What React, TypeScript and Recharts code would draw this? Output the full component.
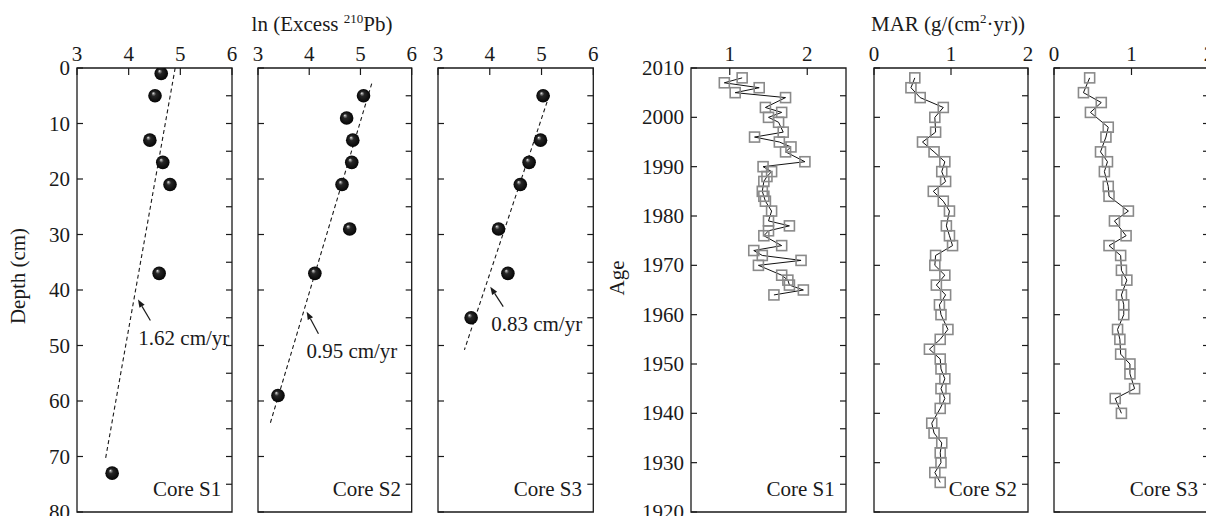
import React from "react";
import { ScatterChart, Scatter, XAxis, YAxis, ReferenceArea, ReferenceLine } from "recharts";

// ln(excess 210Pb) vs depth, three cores
const depthS1 = [1, 5, 13, 17, 21, 37, 73];
const lnS1 = [4.63, 4.51, 4.41, 4.66, 4.8, 4.59, 3.68];
const depthS2 = [5, 9, 13, 17, 21, 29, 37, 59];
const lnS2 = [5.06, 4.73, 4.85, 4.83, 4.64, 4.79, 4.11, 3.39];
const depthS3 = [5, 13, 17, 21, 29, 37, 45];
const lnS3 = [5.03, 4.98, 4.76, 4.59, 4.17, 4.35, 3.64];

// dashed fit lines, [top, bottom]
const fitDepthS1 = [0, 70.5];
const fitLnS1 = [4.9, 3.55];
const fitDepthS2 = [2.8, 64.3];
const fitLnS2 = [5.22, 3.23];
const fitDepthS3 = [4.9, 50.8];
const fitLnS3 = [5.15, 3.51];

// arrows, [tail, tip]
const arrowDepthS1 = [45.5, 41.7];
const arrowLnS1 = [4.42, 4.18];
const arrowDepthS2 = [47.9, 43.9];
const arrowLnS2 = [4.18, 3.95];
const arrowDepthS3 = [43.0, 39.4];
const arrowLnS3 = [4.26, 4.01];
const rateLabels = ["1.62 cm/yr", "0.95 cm/yr", "0.83 cm/yr"];

// MAR vs age
const ageS1 = [2008, 2007, 2006, 2005, 2004, 2002, 2001, 2000, 1999, 1997, 1996, 1995, 1994, 1993, 1991, 1990, 1989, 1988, 1987, 1985, 1984, 1983, 1981, 1979, 1978, 1977, 1976, 1974, 1973, 1972, 1971, 1970, 1968, 1967, 1966, 1965, 1964];
const marS1 = [1.16, 0.93, 1.38, 1.07, 1.72, 1.46, 1.67, 1.5, 1.63, 1.69, 1.32, 1.64, 1.79, 1.72, 1.97, 1.43, 1.54, 1.48, 1.44, 1.42, 1.44, 1.46, 1.54, 1.5, 1.77, 1.5, 1.44, 1.67, 1.31, 1.42, 1.92, 1.37, 1.67, 1.75, 1.77, 1.95, 1.57];
const ageS2 = [2008, 2006, 2004, 2002, 2000, 1997, 1995, 1993, 1991, 1989, 1987, 1985, 1983, 1981, 1978, 1976, 1974, 1972, 1970, 1968, 1966, 1964, 1962, 1960, 1957, 1955, 1953, 1951, 1949, 1947, 1945, 1943, 1941, 1938, 1936, 1934, 1932, 1930, 1928, 1926];
const marS2 = [0.53, 0.48, 0.6, 0.9, 0.79, 0.8, 0.63, 0.78, 0.92, 0.88, 0.93, 0.77, 0.9, 0.98, 0.94, 0.98, 1.02, 0.8, 0.79, 0.92, 0.81, 0.93, 0.85, 0.87, 0.96, 0.86, 0.72, 0.86, 0.87, 0.92, 0.87, 0.92, 0.86, 0.75, 0.78, 0.88, 0.86, 0.87, 0.79, 0.86];
const ageS3 = [2008, 2005, 2003, 2001, 1998, 1996, 1993, 1991, 1989, 1986, 1984, 1981, 1979, 1976, 1974, 1972, 1969, 1967, 1964, 1962, 1960, 1957, 1955, 1952, 1950, 1948, 1945, 1943, 1940];
const marS3 = [0.46, 0.38, 0.61, 0.47, 0.7, 0.67, 0.6, 0.69, 0.65, 0.7, 0.71, 0.96, 0.78, 0.93, 0.71, 0.86, 0.87, 0.94, 0.87, 0.9, 0.9, 0.82, 0.85, 0.86, 0.98, 0.98, 1.04, 0.79, 0.87];

// ticks
const lnTicks = [3, 4, 5, 6];
const lnMinor = [3.5, 4, 4.5, 5, 5.5];
const depthTicks = [0, 10, 20, 30, 40, 50, 60, 70, 80];
const ageTicks = [1920, 1930, 1940, 1950, 1960, 1970, 1980, 1990, 2000, 2010];
const marTicksS1 = [1, 2];
const marMinorS1 = [1, 1.5, 2];
const marTicks = [0, 1, 2];
const marMinor = [0.5, 1, 1.5];
const rightTicks = [1, 2, 3, 4, 5, 6, 7, 8, 9, 10, 11, 12, 13, 14, 15];
const coreNames = ["Core S1", "Core S2", "Core S3"];

const FONT = 21;
const INK = "#1a1a1a";
const YW = 60;
const RW = 8;
const TOP = 68;
const FAMILY = "'Liberation Serif', 'Times New Roman', serif";

const zip = (xs: number[], ys: number[]) => xs.map((x, i) => ({ x, y: ys[i] }));

const topTick = (p: any) => (
  <g>
    <line x1={p.x} y1={p.y} x2={p.x} y2={p.y + 7} stroke={INK} strokeWidth={1.2} />
    <text x={p.x} y={p.y - 7} textAnchor="middle" fontSize={FONT} fontFamily={FAMILY} fill={INK}>
      {p.payload.value}
    </text>
  </g>
);
const bottomTick = (p: any) => (
  <line x1={p.x} y1={p.y} x2={p.x} y2={p.y - 6} stroke={INK} strokeWidth={1.2} />
);
const leftTick = (showLabel: boolean) => (p: any) => (
  <g>
    <line x1={p.x} y1={p.y} x2={p.x + 6} y2={p.y} stroke={INK} strokeWidth={1.2} />
    {showLabel && (
      <text x={p.x - 7} y={p.y + 7} textAnchor="end" fontSize={FONT} fontFamily={FAMILY} fill={INK}>
        {p.payload.value}
      </text>
    )}
  </g>
);
const rightTick = (p: any) => (
  <line x1={p.x} y1={p.y} x2={p.x - 6} y2={p.y} stroke={INK} strokeWidth={1.2} />
);

const Ball = (p: any) => {
  if (p.cx == null || p.cy == null) return <g />;
  return <circle cx={p.cx} cy={p.cy} r={6.8} fill="url(#ballFill)" />;
};
const Square = (p: any) => {
  if (p.cx == null || p.cy == null) return <g />;
  return <rect x={p.cx - 5} y={p.cy - 5} width={10} height={10} fill="none" stroke="#8a8a8a" strokeWidth={1.6} />;
};

const arrowShape = (text: string) => (p: any) => {
  const { x1, y1, x2, y2 } = p;
  const a = Math.atan2(y2 - y1, x2 - x1);
  const L = 8;
  const W = 3;
  const bx = x2 - L * Math.cos(a);
  const by = y2 - L * Math.sin(a);
  const pts = `${x2},${y2} ${bx - W * Math.sin(a)},${by + W * Math.cos(a)} ${bx + W * Math.sin(a)},${by - W * Math.cos(a)}`;
  return (
    <g>
      <line x1={x1} y1={y1} x2={bx} y2={by} stroke={INK} strokeWidth={1.2} />
      <polygon points={pts} fill={INK} />
      <text x={x1 - 12} y={y1 + 24} fontSize={FONT} fontFamily={FAMILY} fill={INK}>
        {text}
      </text>
    </g>
  );
};

type PanelProps = {
  left: number;
  width: number;
  xDomain: [number, number];
  xTicks: number[];
  xMinor: number[];
  yDomain: [number, number];
  yTicks: number[];
  reversed: boolean;
  yLabels: boolean;
  data: { x: number; y: number }[];
  marker: any;
  joined: boolean;
  fit?: { x: number; y: number }[];
  arrow?: { x: number; y: number }[];
  rate?: string;
};

function Panel(props: PanelProps) {
  const { left, width, xDomain, xTicks, xMinor, yDomain, yTicks, reversed, yLabels, data, marker, joined, fit, arrow, rate } = props;
  return (
    <div style={{ position: "absolute", left: left - YW, top: 0 }}>
      <ScatterChart width={YW + width + RW} height={516} margin={{ top: TOP - 30, right: 0, bottom: 0, left: 0 }}>
        <XAxis xAxisId="t" orientation="top" type="number" dataKey="x" domain={xDomain} ticks={xTicks} interval={0}
          height={30} axisLine={false} tickLine={false} tickSize={0} tickMargin={0} tick={topTick} allowDataOverflow />
        <XAxis xAxisId="b" orientation="bottom" type="number" domain={xDomain} ticks={xMinor} interval={0}
          height={4} axisLine={false} tickLine={false} tickSize={0} tickMargin={0} tick={bottomTick} allowDataOverflow />
        <YAxis yAxisId="l" type="number" dataKey="y" domain={yDomain} ticks={yTicks} reversed={reversed} interval={0}
          width={YW} axisLine={false} tickLine={false} tickSize={0} tickMargin={0} tick={leftTick(yLabels)} allowDataOverflow />
        <YAxis yAxisId="r" orientation="right" type="number" domain={[0, 16]} ticks={rightTicks} interval={0}
          width={RW} axisLine={false} tickLine={false} tickSize={0} tickMargin={0} tick={rightTick} allowDataOverflow />
        <ReferenceArea xAxisId="t" yAxisId="l" x1={xDomain[0]} x2={xDomain[1]} y1={yDomain[0]} y2={yDomain[1]}
          fill="none" fillOpacity={0} stroke={INK} strokeWidth={1.3} ifOverflow="visible" />
        {fit && (
          <ReferenceLine xAxisId="t" yAxisId="l" segment={fit} stroke={INK} strokeWidth={1.1} strokeDasharray="4 3" />
        )}
        {arrow && rate && (
          <ReferenceLine xAxisId="t" yAxisId="l" segment={arrow} shape={arrowShape(rate)} />
        )}
        <Scatter xAxisId="t" yAxisId="l" data={data} shape={marker}
          line={joined ? { stroke: "#111", strokeWidth: 1 } : false} isAnimationActive={false} />
      </ScatterChart>
    </div>
  );
}

const lefts = [77.3, 258.3, 437.7, 690.7, 874, 1054];
const widths = [155, 153.7, 155.3, 155, 154, 155];

export default function App() {
  const lnSets = [
    { depth: depthS1, ln: lnS1, fd: fitDepthS1, fl: fitLnS1, ad: arrowDepthS1, al: arrowLnS1 },
    { depth: depthS2, ln: lnS2, fd: fitDepthS2, fl: fitLnS2, ad: arrowDepthS2, al: arrowLnS2 },
    { depth: depthS3, ln: lnS3, fd: fitDepthS3, fl: fitLnS3, ad: arrowDepthS3, al: arrowLnS3 },
  ];
  const marSets = [
    { age: ageS1, mar: marS1, dom: [0.5, 2.5] as [number, number], ticks: marTicksS1, minor: marMinorS1 },
    { age: ageS2, mar: marS2, dom: [0, 2] as [number, number], ticks: marTicks, minor: marMinor },
    { age: ageS3, mar: marS3, dom: [0, 2] as [number, number], ticks: marTicks, minor: marMinor },
  ];
  return (
    <div style={{ position: "fixed", left: 0, top: 0, width: 1206, height: 516, overflow: "hidden", background: "#fff", fontFamily: FAMILY }}>
      <svg width={0} height={0} style={{ position: "absolute" }}>
        <defs>
          <radialGradient id="ballFill" cx="50%" cy="50%" r="50%" fx="36%" fy="30%">
            <stop offset="0%" stopColor="#ffffff" />
            <stop offset="14%" stopColor="#8a8a8a" />
            <stop offset="34%" stopColor="#262626" />
            <stop offset="100%" stopColor="#050505" />
          </radialGradient>
        </defs>
      </svg>
      {lnSets.map((s, i) => (
        <Panel key={`ln${i}`} left={lefts[i]} width={widths[i]} xDomain={[3, 6]} xTicks={lnTicks} xMinor={lnMinor}
          yDomain={[0, 80]} yTicks={depthTicks} reversed yLabels={i === 0} data={zip(s.ln, s.depth)} marker={Ball}
          joined={false} fit={zip(s.fl, s.fd)} arrow={zip(s.al, s.ad)} rate={rateLabels[i]} />
      ))}
      {marSets.map((s, i) => (
        <Panel key={`mar${i}`} left={lefts[i + 3]} width={widths[i + 3]} xDomain={s.dom} xTicks={s.ticks} xMinor={s.minor}
          yDomain={[1920, 2010]} yTicks={ageTicks} reversed={false} yLabels={i === 0} data={zip(s.mar, s.age)}
          marker={Square} joined />
      ))}
      <svg width={1206} height={516} style={{ position: "absolute", left: 0, top: 0, pointerEvents: "none" }}
        fontFamily={FAMILY} fontSize={FONT} fill={INK}>
        <text x={322} y={31} textAnchor="middle">
          <tspan>ln (Excess </tspan>
          <tspan fontSize={13} dy={-8}>210</tspan>
          <tspan dy={8}>Pb)</tspan>
        </text>
        <text x={948} y={31} textAnchor="middle">
          <tspan>MAR (g/(cm</tspan>
          <tspan fontSize={13} dy={-8}>2</tspan>
          <tspan dy={8}>·yr))</tspan>
        </text>
        <text x={24.5} y={276} textAnchor="middle" transform="rotate(-90 24.5 276)">Depth (cm)</text>
        <text x={624} y={278} textAnchor="middle" transform="rotate(-90 624 278)">Age</text>
        {[0, 1, 2, 3, 4, 5].map((i) => (
          <text key={i} x={lefts[i] + widths[i] - 11} y={496} textAnchor="end">{coreNames[i % 3]}</text>
        ))}
      </svg>
    </div>
  );
}
